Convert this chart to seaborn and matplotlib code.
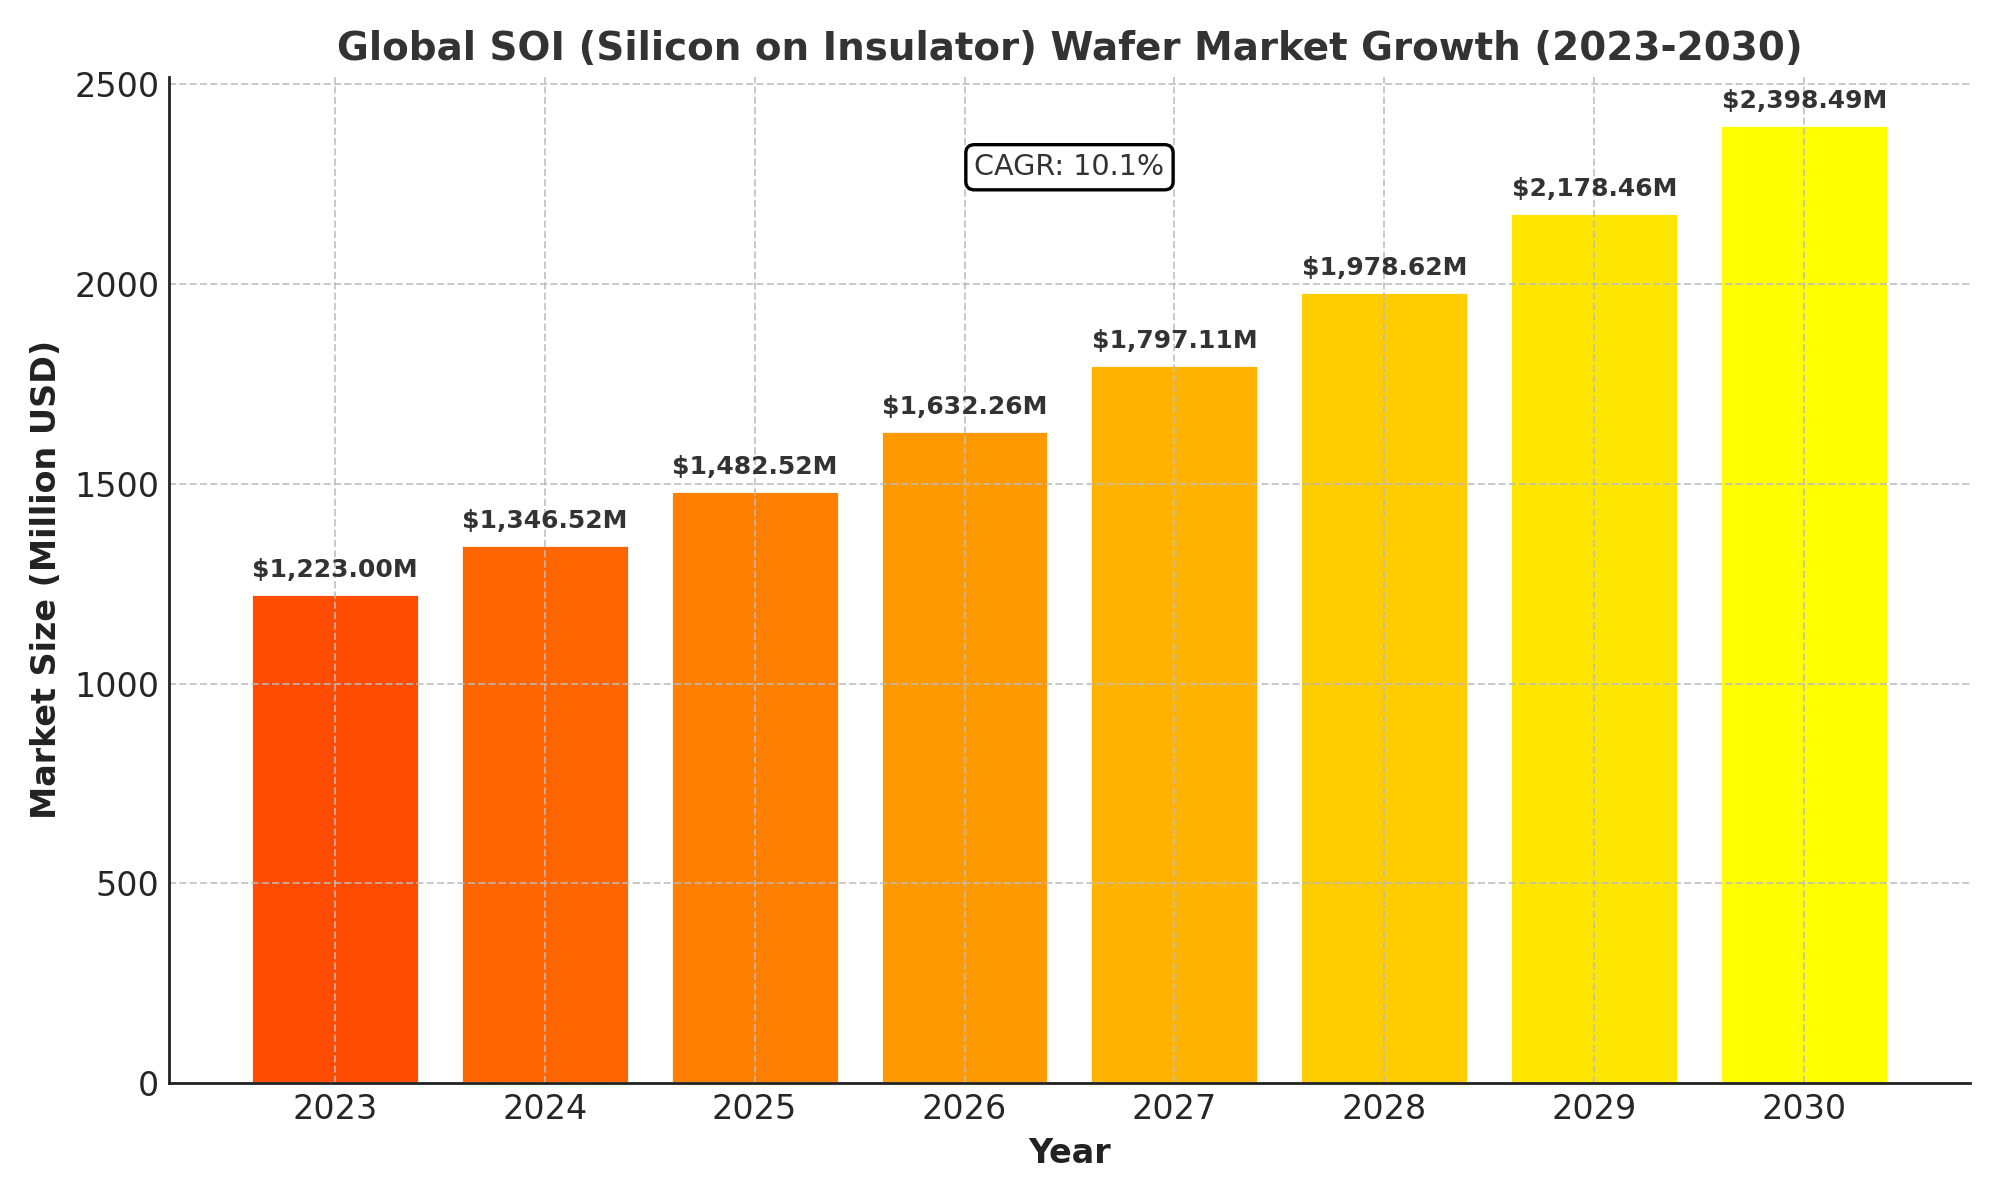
import numpy as np
import pandas as pd
import matplotlib
matplotlib.use("Agg")
import matplotlib.pyplot as plt
import seaborn as sns

# ==========================================================
# Data
# ==========================================================

years = ["2023", "2024", "2025", "2026", "2027", "2028", "2029", "2030"]
market_size = [1223.00, 1346.52, 1482.52, 1632.26, 1797.11, 1978.62, 2178.46, 2398.49]
cagr_text = "CAGR: 10.1%"

df = pd.DataFrame({"Year": years, "Market Size": market_size})

colors = plt.cm.autumn(np.linspace(0.3, 1, len(years)))

# ==========================================================
# Plot
# ==========================================================

sns.set_style("white")
plt.rcParams["font.family"] = ["DejaVu Sans"]

fig, ax = plt.subplots(figsize=(10, 6), dpi=200)

sns.barplot(
    data=df,
    x="Year",
    y="Market Size",
    hue="Year",
    palette=list(colors),
    legend=False,
    width=0.8,
    saturation=1,
    ax=ax
)

for i, v in enumerate(market_size):
    ax.text(i, v + 30, f"${v:,.2f}M", ha="center", va="bottom",
            fontsize=9, fontweight="bold", color="#333333")

ax.text(0.5, 0.91, cagr_text, transform=ax.transAxes, ha="center", va="center",
        fontsize=10.3, color="#333333",
        bbox=dict(boxstyle="round,pad=0.3", facecolor="white", edgecolor="black", linewidth=1.2))

ax.set_title("Global SOI (Silicon on Insulator) Wafer Market Growth (2023-2030)",
             fontsize=14, fontweight="bold", color="#333333")
ax.set_xlabel("Year", fontsize=12, fontweight="bold", color="#222222")
ax.set_ylabel("Market Size (Million USD)", fontsize=12, fontweight="bold", color="#222222")

# matplotlib-style x margins (5% around the bars)
n = len(years)
pad = 0.05 * (n - 1 + 0.8)
ax.set_xlim(-0.4 - pad, n - 1 + 0.4 + pad)
ax.set_ylim(0, max(market_size) * 1.05)
ax.set_axisbelow(False)
ax.grid(True, linestyle="--", color="#bbbbbb", alpha=0.8, linewidth=0.7)
ax.tick_params(axis="both", direction="in", labelsize=12, length=4, color="#222222")

sns.despine(ax=ax)
for s in ["left", "bottom"]:
    ax.spines[s].set_color("#222222")
    ax.spines[s].set_linewidth(1.0)
    ax.spines[s].set_zorder(5)

plt.tight_layout()
plt.savefig("out.png", dpi=200)
